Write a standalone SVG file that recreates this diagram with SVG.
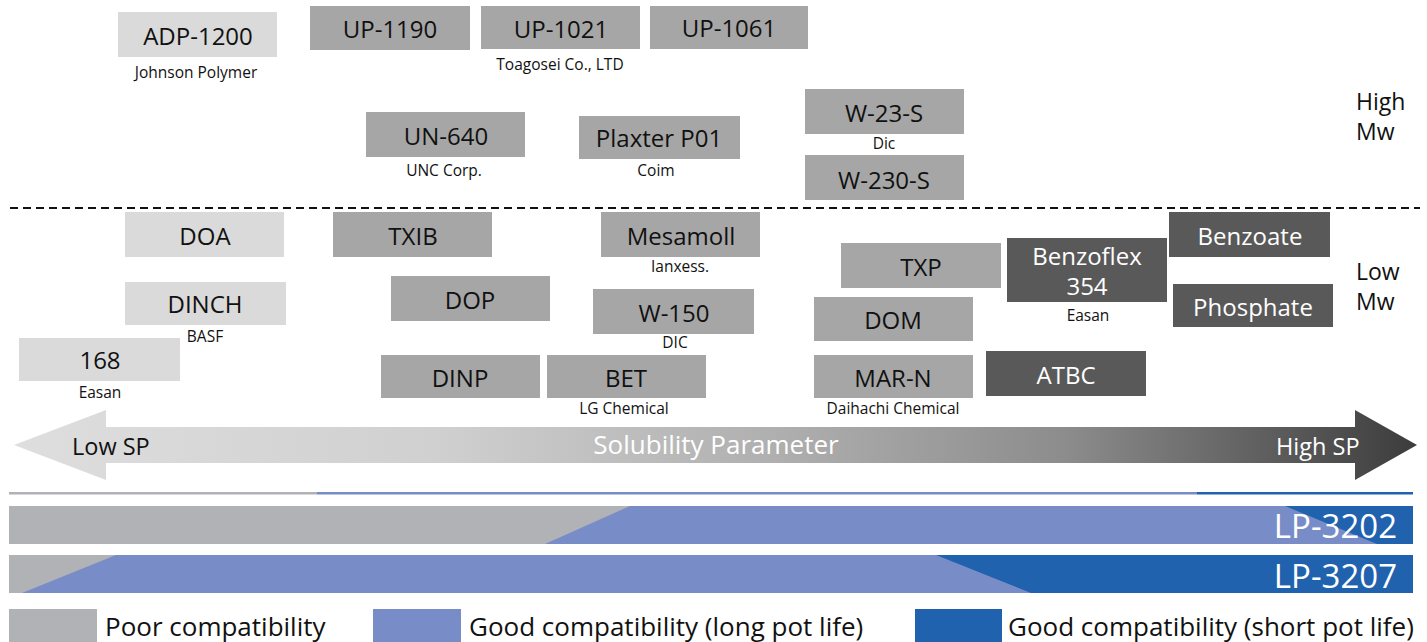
<svg xmlns="http://www.w3.org/2000/svg" width="1427" height="642" viewBox="0 0 1427 642">
<style>
text{font-family:"Open Sans","Noto Sans","Liberation Sans",sans-serif;}
.lt{fill:#dadada}
.md{fill:#a6a6a6}
.dk{fill:#595959}
.lb{font-size:24px;fill:#111;text-anchor:middle}
.lw{font-size:24px;fill:#fff;text-anchor:middle}
.cap{font-size:15.5px;fill:#111;text-anchor:middle}
.side{font-size:23px;fill:#111}
.leg{font-size:26px;fill:#111}
</style>
<defs>
<linearGradient id="sp" x1="14" y1="0" x2="1417" y2="0" gradientUnits="userSpaceOnUse">
<stop offset="0" stop-color="#dedede"/>
<stop offset="0.3" stop-color="#d0d0d0"/>
<stop offset="0.55" stop-color="#aeaeae"/>
<stop offset="0.75" stop-color="#8c8c8c"/>
<stop offset="1" stop-color="#3c3c3c"/>
</linearGradient>
</defs>

<!-- divider -->
<line x1="10" y1="208" x2="1420" y2="208" stroke="#111" stroke-width="2" stroke-dasharray="8,5"/>
<text class="side" x="1356" y="110">High</text>
<text class="side" x="1356" y="140">Mw</text>
<text class="side" x="1356" y="280">Low</text>
<text class="side" x="1356" y="310">Mw</text>

<!-- High Mw nodes -->
<g id="adp1200"><rect class="lt" x="118" y="12" width="159" height="45"/><text class="lb" x="198" y="45">ADP-1200</text><text class="cap" x="196" y="78">Johnson Polymer</text></g>
<g id="up1190"><rect class="md" x="310" y="6" width="160" height="44"/><text class="lb" x="390" y="38">UP-1190</text></g>
<g id="up1021"><rect class="md" x="481" y="6" width="159" height="43"/><text class="lb" x="561" y="38">UP-1021</text><text class="cap" x="560" y="70">Toagosei Co., LTD</text></g>
<g id="up1061"><rect class="md" x="650" y="6" width="158" height="43"/><text class="lb" x="729" y="37">UP-1061</text></g>
<g id="un640"><rect class="md" x="366" y="112" width="159" height="45"/><text class="lb" x="446" y="145">UN-640</text><text class="cap" x="444" y="176">UNC Corp.</text></g>
<g id="plaxter"><rect class="md" x="579" y="116" width="161" height="43"/><text class="lb" x="659" y="147">Plaxter P01</text><text class="cap" x="656" y="176">Coim</text></g>
<g id="w23s"><rect class="md" x="805" y="89" width="159" height="45"/><text class="lb" x="884" y="122">W-23-S</text><text class="cap" x="884" y="149">Dic</text></g>
<g id="w230s"><rect class="md" x="805" y="155" width="159" height="45"/><text class="lb" x="884" y="189">W-230-S</text></g>

<!-- Low Mw nodes -->
<g id="doa"><rect class="lt" x="125" y="212" width="159" height="45"/><text class="lb" x="205" y="245">DOA</text></g>
<g id="dinch"><rect class="lt" x="125" y="282" width="161" height="43"/><text class="lb" x="205" y="313">DINCH</text><text class="cap" x="205" y="342">BASF</text></g>
<g id="n168"><rect class="lt" x="19" y="338" width="161" height="43"/><text class="lb" x="100" y="369">168</text><text class="cap" x="100" y="398">Easan</text></g>
<g id="txib"><rect class="md" x="333" y="212" width="159" height="45"/><text class="lb" x="413" y="245">TXIB</text></g>
<g id="dop"><rect class="md" x="391" y="276" width="159" height="45"/><text class="lb" x="470" y="309">DOP</text></g>
<g id="dinp"><rect class="md" x="381" y="355" width="159" height="43"/><text class="lb" x="460" y="387">DINP</text></g>
<g id="bet"><rect class="md" x="547" y="355" width="159" height="43"/><text class="lb" x="626" y="387">BET</text><text class="cap" x="624" y="414">LG Chemical</text></g>
<g id="mesamoll"><rect class="md" x="601" y="212" width="159" height="45"/><text class="lb" x="681" y="245">Mesamoll</text><text class="cap" x="680" y="272">Ianxess.</text></g>
<g id="w150"><rect class="md" x="593" y="289" width="161" height="45"/><text class="lb" x="674" y="322">W-150</text><text class="cap" x="675" y="348">DIC</text></g>
<g id="txp"><rect class="md" x="841" y="243" width="160" height="45"/><text class="lb" x="921" y="276">TXP</text></g>
<g id="dom"><rect class="md" x="814" y="297" width="159" height="44"/><text class="lb" x="893" y="329">DOM</text></g>
<g id="marn"><rect class="md" x="814" y="355" width="159" height="43"/><text class="lb" x="893" y="387">MAR-N</text><text class="cap" x="893" y="414">Daihachi Chemical</text></g>
<g id="benzoflex"><rect class="dk" x="1007" y="238" width="160" height="64"/><text class="lw" x="1087" y="265">Benzoflex</text><text class="lw" x="1087" y="295">354</text><text class="cap" x="1088" y="321">Easan</text></g>
<g id="atbc"><rect class="dk" x="986" y="351" width="160" height="45"/><text class="lw" x="1066" y="384">ATBC</text></g>
<g id="benzoate"><rect class="dk" x="1169" y="212" width="161" height="45"/><text class="lw" x="1250" y="245">Benzoate</text></g>
<g id="phosphate"><rect class="dk" x="1173" y="284" width="160" height="43"/><text class="lw" x="1253" y="316">Phosphate</text></g>

<!-- Solubility arrow -->
<g id="arrow">
<polygon points="14,445 106,410 106,427 1355,427 1355,410 1417,445 1355,480 1355,463 106,463 106,480" fill="url(#sp)"/>
<text x="72" y="455" font-size="23.5" fill="#111">Low SP</text>
<text x="716" y="454" font-size="26" fill="#fff" text-anchor="middle">Solubility Parameter</text>
<text x="1276" y="455" font-size="23.5" fill="#fff">High SP</text>
</g>

<!-- compatibility bars -->
<g id="bars">
<rect x="9" y="492" width="308" height="2.5" fill="#b1b2b6"/>
<rect x="317" y="492" width="880" height="2.5" fill="#788cc8"/>
<rect x="1197" y="492" width="216" height="2.5" fill="#2162ae"/>

<g id="lp3202">
<rect x="9" y="506" width="1404" height="38" fill="#b1b2b6"/>
<polygon points="630,506 1413,506 1413,544 545,544" fill="#788cc8"/>
<polygon points="1285,506 1413,506 1413,544 1377,544" fill="#2162ae"/>
<text x="1397" y="538" font-size="33" fill="#fff" text-anchor="end">LP-3202</text>
</g>
<g id="lp3207">
<rect x="9" y="555" width="1404" height="38" fill="#788cc8"/>
<polygon points="9,555 116,555 22,593 9,593" fill="#b1b2b6"/>
<polygon points="936,555 1413,555 1413,593 1031,593" fill="#2162ae"/>
<text x="1397" y="588" font-size="33" fill="#fff" text-anchor="end">LP-3207</text>
</g>
</g>

<!-- legend -->
<g id="legend">
<rect x="9" y="609" width="88" height="33" fill="#b1b2b6"/>
<text class="leg" x="105" y="636">Poor compatibility</text>
<rect x="373" y="609" width="88" height="33" fill="#788cc8"/>
<text class="leg" x="469" y="636">Good compatibility (long pot life)</text>
<rect x="915" y="609" width="87" height="33" fill="#2162ae"/>
<text class="leg" x="1008" y="636">Good compatibility (short pot life)</text>
</g>
</svg>
